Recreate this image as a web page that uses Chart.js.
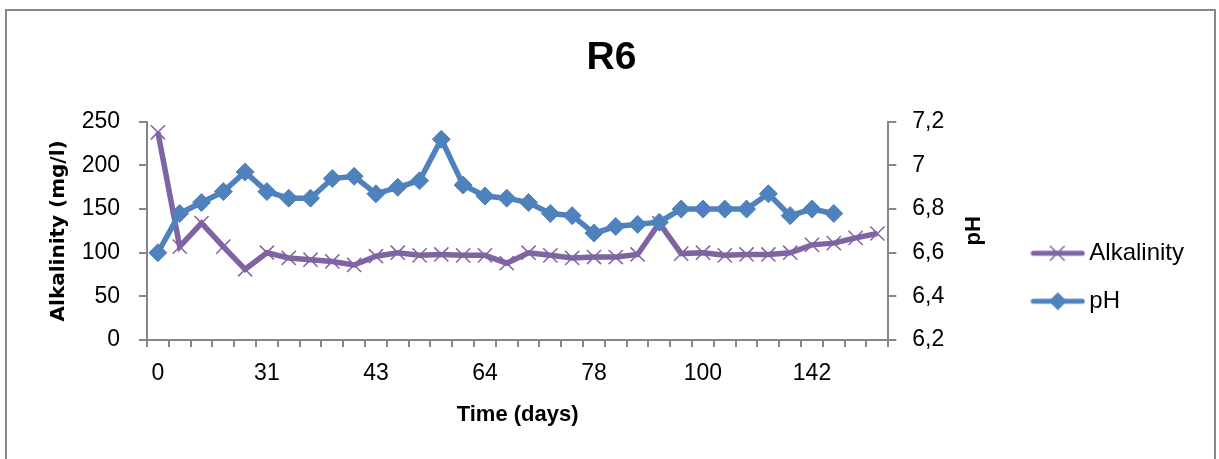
<!DOCTYPE html>
<html>
<head>
<meta charset="utf-8">
<script src="https://cdn.jsdelivr.net/npm/chart.js@4/dist/chart.umd.min.js"></script>
<style>
  html, body { margin: 0; padding: 0; background: #fff; }
  #wrap { position: relative; width: 1219px; height: 459px; overflow: hidden; }
  #frame { position: absolute; left: 5px; top: 9px; width: 1211px; height: 470px; border: 2px solid #898989; box-sizing: border-box; }
  #chart { position: absolute; left: 0; top: 0; }
</style>
</head>
<body>
<div id="wrap">
  <div id="frame"></div>
  <canvas id="chart" width="1219" height="459"></canvas>
</div>
<script>
// sampling days (only every 5th one is labelled on the axis)
let dayLabels = ["0", "", "", "", "", "31", "", "", "", "", "43", "", "", "", "", "64", "", "",
                 "", "", "78", "", "", "", "", "100", "", "", "", "", "142", "", "", ""];

let alkalinity = [238, 107, 134, 107, 81, 100, 94, 92, 90, 86, 96, 100, 97, 98, 97, 97, 88,
                  100, 97, 94, 95, 95, 98, 134, 99, 100, 97, 98, 98, 100, 109, 111, 117, 122];

let ph = [6.60, 6.78, 6.83, 6.88, 6.97, 6.88, 6.85, 6.85, 6.94, 6.95, 6.87, 6.90, 6.93, 7.12,
          6.91, 6.86, 6.85, 6.83, 6.78, 6.77, 6.69, 6.72, 6.73, 6.74, 6.80, 6.80, 6.80, 6.80,
          6.87, 6.77, 6.80, 6.78];

let purple = "#8064A2";
let blue = "#4F81BD";
let axisGrey = "#868686";

// legend symbols: a short line with the series marker in the middle
function legendSymbol(color, marker) {
    let c = document.createElement("canvas");
    c.width = 55; c.height = 22;
    let g = c.getContext("2d");
    g.strokeStyle = color;
    g.lineWidth = 5;
    g.lineCap = "round";
    g.beginPath(); g.moveTo(3, 11); g.lineTo(52, 11); g.stroke();
    if (marker === "x") {
        g.lineWidth = 1.5;
        g.beginPath();
        g.moveTo(20, 4); g.lineTo(34, 18);
        g.moveTo(34, 4); g.lineTo(20, 18);
        g.stroke();
    } else {
        g.fillStyle = color;
        g.beginPath();
        g.moveTo(27.5, 2); g.lineTo(36.5, 11); g.lineTo(27.5, 20); g.lineTo(18.5, 11);
        g.closePath(); g.fill();
    }
    return c;
}
let symbols = [legendSymbol(purple, "x"), legendSymbol(blue, "d")];

let rightTitle = {
    id: "rightTitle",
    afterDraw(chart) {
        let s = chart.scales.y1;
        let ctx = chart.ctx;
        ctx.save();
        ctx.translate(s.right - 40, (s.top + s.bottom) / 2);
        ctx.rotate(-Math.PI / 2);
        ctx.font = "bold 22px 'Liberation Sans'";
        ctx.fillStyle = "#000";
        ctx.textAlign = "center";
        ctx.textBaseline = "middle";
        ctx.fillText("pH", 0, 0);
        ctx.restore();
    }
};

let tickFont = { family: "'Liberation Sans'", size: 23 };

new Chart(document.getElementById("chart"), {
    type: "line",
    data: {
        labels: dayLabels,
        datasets: [
            {
                label: "Alkalinity",
                data: alkalinity,
                yAxisID: "y",
                order: 1,
                borderColor: purple,
                backgroundColor: purple,
                borderWidth: 5.5,
                tension: 0,
                pointStyle: "crossRot",
                pointRadius: 10,
                pointBorderWidth: 1.5,
                pointBorderColor: purple
            },
            {
                label: "pH",
                data: ph,
                yAxisID: "y1",
                order: 0,
                borderColor: blue,
                backgroundColor: blue,
                borderWidth: 5.5,
                tension: 0,
                pointStyle: "rectRot",
                pointRadius: 9,
                pointBorderWidth: 1,
                pointBackgroundColor: blue,
                pointBorderColor: blue
            }
        ]
    },
    options: {
        responsive: false,
        animation: false,
        layout: { padding: { top: 0, left: 29, right: 25, bottom: 31 } },
        plugins: {
            tooltip: { enabled: false },
            title: {
                display: true,
                text: "R6",
                color: "#000",
                font: { family: "'Liberation Sans'", size: 39, weight: "bold" },
                padding: { top: 35, bottom: 40 }
            },
            legend: {
                position: "right",
                align: "start",
                fullSize: false,
                title: { display: true, text: " ", padding: { top: 81, bottom: 0 } },
                labels: {
                    color: "#000",
                    font: { family: "'Liberation Sans'", size: 24 },
                    usePointStyle: true,
                    pointStyleWidth: 39,
                    padding: 24,
                    sort: (a, b) => a.datasetIndex - b.datasetIndex,
                    generateLabels(chart) {
                        let items = Chart.defaults.plugins.legend.labels.generateLabels(chart);
                        items.forEach(it => { it.pointStyle = symbols[it.datasetIndex]; });
                        return items;
                    }
                }
            }
        },
        scales: {
            x: {
                offset: true,
                grid: { offset: true, drawOnChartArea: false, tickLength: 7, color: axisGrey, lineWidth: 2 },
                border: { color: axisGrey, width: 2 },
                ticks: {
                    autoSkip: false,
                    maxRotation: 0,
                    padding: 13,
                    color: "#000",
                    font: tickFont,
                    callback: (v, i) => dayLabels[i]
                },
                title: {
                    display: true,
                    text: "Time (days)",
                    color: "#000",
                    font: { family: "'Liberation Sans'", size: 22, weight: "bold" },
                    padding: { top: 0, bottom: 0 }
                },
                afterFit: (s) => { s.height = 88; }
            },
            y: {
                position: "left",
                min: 0,
                max: 250,
                ticks: { stepSize: 50, padding: 19, color: "#000", font: tickFont },
                grid: { drawOnChartArea: false, tickLength: 8, color: axisGrey, lineWidth: 2 },
                border: { color: axisGrey, width: 2 },
                title: {
                    display: true,
                    text: "Alkalinity (mg/l)",
                    color: "#000",
                    font: { family: "'DejaVu Sans'", size: 20, weight: "bold" },
                    padding: { top: 18, bottom: 0 }
                },
                afterFit: (s) => { s.width = 118; }
            },
            y1: {
                position: "right",
                min: 6.2,
                max: 7.2,
                ticks: {
                    stepSize: 0.2,
                    padding: 16,
                    color: "#000",
                    font: tickFont,
                    callback: (v) => String(Number(v.toFixed(1))).replace(".", ",")
                },
                grid: { drawOnChartArea: false, tickLength: 8, color: axisGrey, lineWidth: 2 },
                border: { color: axisGrey, width: 2 },
                afterFit: (s) => { s.width = 126; }
            }
        }
    },
    plugins: [rightTitle]
});
</script>
</body>
</html>
